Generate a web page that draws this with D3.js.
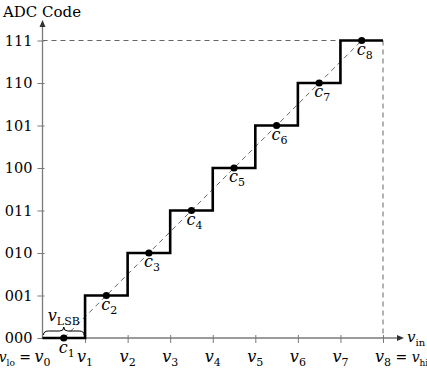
<!DOCTYPE html>
<html>
<head>
<meta charset="utf-8">
<script src="https://cdn.jsdelivr.net/npm/d3@7"></script>
<style>
  body { margin: 0; background: #fff; }
</style>
</head>
<body>
<div id="chart"></div>
<script>
// chart data
var codes = ["000", "001", "010", "011", "100", "101", "110", "111"];
var vSteps = [0, 1, 2, 3, 4, 5, 6, 7, 8];
var levels = [0, 1, 2, 3, 4, 5, 6, 7];          // output code on each step
var dotX = [0.5, 1.5, 2.5, 3.5, 4.5, 5.5, 6.5, 7.5]; // centers c1..c8

var width = 427, height = 376;
var serif = "DejaVu Serif";

var svg = d3.select("#chart").append("svg")
    .attr("width", width)
    .attr("height", height);

var x = d3.scaleLinear().domain([0, 8]).range([42.5, 383]);
var y = d3.scaleLinear().domain([0, 7]).range([338, 40.5]);

var axisColor = "#7a7a7a";

// helper: italic letter with upright subscript
function subText(sel, base, sub, size, subSize) {
    sel.attr("font-family", serif);
    sel.append("tspan").attr("font-style", "italic").attr("font-size", size).text(base);
    sel.append("tspan").attr("font-size", subSize).attr("dy", 4).text(sub);
}

// dashed guides
svg.append("line")
    .attr("x1", x(0)).attr("x2", x(8))
    .attr("y1", y(7)).attr("y2", y(7))
    .attr("stroke", "#555").attr("stroke-width", 0.9)
    .attr("stroke-dasharray", "5,4");
svg.append("line")
    .attr("x1", x(8)).attr("x2", x(8))
    .attr("y1", y(7)).attr("y2", y(0))
    .attr("stroke", "#555").attr("stroke-width", 0.9)
    .attr("stroke-dasharray", "5,4");
svg.append("line")
    .attr("x1", x(dotX[0])).attr("y1", y(levels[0]))
    .attr("x2", x(dotX[7])).attr("y2", y(levels[7]))
    .attr("stroke", "#555").attr("stroke-width", 0.9)
    .attr("stroke-dasharray", "5,4");

// axes
var yAxis = d3.axisLeft(y).tickValues(levels).tickFormat(function(d) { return codes[d]; })
    .tickSizeInner(6).tickSizeOuter(0).tickPadding(6);
var gy = svg.append("g").attr("transform", "translate(" + x(0) + ",0)").call(yAxis)
    .attr("font-family", serif);
gy.select(".domain").remove();
gy.selectAll(".tick line").attr("stroke", axisColor).attr("x2", 2).attr("x1", -5);
gy.selectAll(".tick text").attr("font-size", 14.5).attr("fill", "#000")
    .attr("font-family", serif).attr("x", -10);

var xAxis = d3.axisBottom(x).tickValues(vSteps.slice(1)).tickFormat("")
    .tickSizeInner(5).tickSizeOuter(0);
var gx = svg.append("g").attr("transform", "translate(0," + y(0) + ")").call(xAxis);
gx.select(".domain").remove();
gx.selectAll(".tick line").attr("stroke", axisColor).attr("y1", -3).attr("y2", 5);

svg.append("line")
    .attr("x1", x(0)).attr("x2", 398).attr("y1", y(0)).attr("y2", y(0))
    .attr("stroke", axisColor).attr("stroke-width", 1.3);
svg.append("path")
    .attr("d", "M404," + y(0) + "l-7,-3l0,6z").attr("fill", "#333");
svg.append("line")
    .attr("x1", x(0)).attr("x2", x(0)).attr("y1", y(0)).attr("y2", 26)
    .attr("stroke", axisColor).attr("stroke-width", 1.3);
svg.append("path")
    .attr("d", "M" + x(0) + ",20l-3,7l6,0z").attr("fill", "#333");

// axis titles
svg.append("text").attr("x", 3).attr("y", 17).attr("font-size", 15)
    .attr("font-family", serif).text("ADC Code");
var vin = svg.append("text").attr("x", 407).attr("y", y(0) + 4);
subText(vin, "v", "in", 15, 10);

// x tick labels
vSteps.forEach(function(v) {
    var t = svg.append("text").attr("x", x(v)).attr("y", 362).attr("text-anchor", "middle");
    subText(t, "v", String(v), 16, 11);
});
var lo = svg.append("text").attr("x", x(0) - 7).attr("y", 362).attr("text-anchor", "end");
subText(lo, "v", "lo", 14, 9);
lo.append("tspan").attr("dy", -4).attr("font-size", 14).text("\u00a0=\u00a0");
var hi = svg.append("text").attr("x", x(8) + 8).attr("y", 362);
hi.attr("font-family", serif).append("tspan").attr("font-size", 14).text("\u00a0=\u00a0");
hi.append("tspan").attr("font-style", "italic").attr("font-size", 14).text("v");
hi.append("tspan").attr("font-size", 9).attr("dy", 4).text("hi");

// staircase
var stairs = [];
levels.forEach(function(l, i) {
    stairs.push([vSteps[i], l]);
    stairs.push([vSteps[i + 1], l]);
});
svg.append("path")
    .datum(stairs)
    .attr("d", d3.line().x(function(d) { return x(d[0]); }).y(function(d) { return y(d[1]); }))
    .attr("fill", "none").attr("stroke", "#000").attr("stroke-width", 2.6);

// LSB brace
var bx0 = x(0) + 1, bx1 = x(1) - 1, by = y(0) - 3, bm = (bx0 + bx1) / 2;
svg.append("path")
    .attr("d", "M" + bx0 + "," + by + " Q" + bx0 + "," + (by - 4) + " " + (bx0 + 5) + "," + (by - 4) +
        " L" + (bm - 4) + "," + (by - 4) + " Q" + bm + "," + (by - 4) + " " + bm + "," + (by - 8) +
        " Q" + bm + "," + (by - 4) + " " + (bm + 4) + "," + (by - 4) +
        " L" + (bx1 - 5) + "," + (by - 4) + " Q" + bx1 + "," + (by - 4) + " " + bx1 + "," + by)
    .attr("fill", "none").attr("stroke", "#000").attr("stroke-width", 1);
var lsb = svg.append("text").attr("x", bm).attr("y", 321).attr("text-anchor", "middle");
subText(lsb, "v", "LSB", 16, 11);

// centre dots and labels
svg.selectAll("circle.c")
    .data(dotX)
    .enter().append("circle")
    .attr("class", "c")
    .attr("cx", function(d) { return x(d); })
    .attr("cy", function(d, i) { return y(levels[i]); })
    .attr("r", 3.6)
    .attr("fill", "#000");

dotX.forEach(function(d, i) {
    var t = svg.append("text")
        .attr("x", x(d) - 5)
        .attr("y", y(levels[i]) + (i === 0 ? 15 : 14));
    subText(t, "c", String(i + 1), 16, 11);
});
</script>
</body>
</html>
